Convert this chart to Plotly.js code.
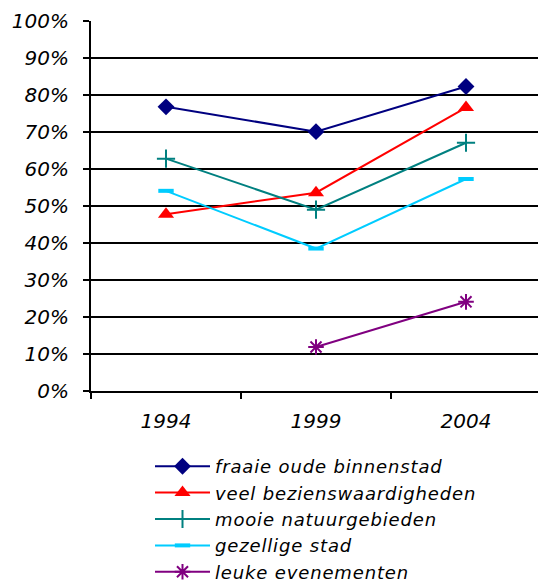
<!DOCTYPE html>
<html>
<head>
<meta charset="utf-8">
<script src="https://cdn.plot.ly/plotly-3.0.1.min.js"></script>
<style>html,body{margin:0;padding:0;background:#fff;}#chart{width:538px;height:583px;}
.legendtext{letter-spacing:0.85px;}
</style>
</head>
<body>
<div id="chart"></div>
<script>
const years = ['1994', '1999', '2004'];
const fraaieOudeBinnenstad = [0.768, 0.701, 0.823];
const veelBezienswaardigheden = [0.478, 0.536, 0.766];
const mooieNatuurgebieden = [0.628, 0.490, 0.671];
const gezelligeStad = [0.541, 0.385, 0.573];
const leukeEvenementen = [null, 0.119, 0.241];
const seriesNames = ['fraaie oude binnenstad', 'veel bezienswaardigheden', 'mooie natuurgebieden', 'gezellige stad', 'leuke evenementen'];
const yTickVals = [0, 0.1, 0.2, 0.3, 0.4, 0.5, 0.6, 0.7, 0.8, 0.9, 1.0];

const font = {family: 'DejaVu Sans, Verdana, sans-serif', size: 20, color: '#000', style: 'italic'};
const legendFont = {family: 'DejaVu Sans, Verdana, sans-serif', size: 18, color: '#000', style: 'italic'};

const traces = [
  {x: years, y: fraaieOudeBinnenstad, name: seriesNames[0], mode: 'lines+markers',
   line: {color: '#000080', width: 2}, marker: {symbol: 'diamond', size: 13, color: '#000080'}},
  {x: years, y: veelBezienswaardigheden, name: seriesNames[1], mode: 'lines+markers',
   line: {color: '#FF0000', width: 2}, marker: {symbol: 'triangle-up', size: 14, color: '#FF0000'}},
  {x: years, y: mooieNatuurgebieden, name: seriesNames[2], mode: 'lines+markers',
   line: {color: '#008080', width: 2}, marker: {symbol: 'cross-thin-open', size: 13, color: '#008080', line: {color: '#008080', width: 2}}},
  {x: years, y: gezelligeStad, name: seriesNames[3], mode: 'lines+markers',
   line: {color: '#00CCFF', width: 2}, marker: {symbol: 'line-ew-open', size: 11, color: '#00CCFF', line: {color: '#00CCFF', width: 4}}},
  {x: years, y: leukeEvenementen, name: seriesNames[4], mode: 'lines+markers',
   line: {color: '#800080', width: 2}, marker: {symbol: 'asterisk-open', size: 13, color: '#800080', line: {color: '#800080', width: 2}}}
];

const layout = {
  width: 538, height: 583,
  margin: {l: 91, r: 0, t: 21, b: 192, pad: 0, autoexpand: false},
  paper_bgcolor: '#fff', plot_bgcolor: '#fff',
  font: font,
  showlegend: true,
  xaxis: {
    type: 'category', range: [-0.5, 2.48],
    showgrid: false, zeroline: false,
    showline: true, linecolor: '#000', linewidth: 2, automargin: false, tickangle: 0,
    ticks: 'outside', tickson: 'boundaries', ticklen: 6, tickwidth: 2, tickcolor: '#000',
    ticklabelstandoff: 11,
    tickfont: font
  },
  yaxis: {
    range: [0, 1], tickvals: yTickVals, tickformat: '.0%', automargin: false,
    showgrid: true, gridcolor: '#000', gridwidth: 2,
    zeroline: false,
    showline: true, linecolor: '#000', linewidth: 2,
    ticks: 'outside', ticklen: 6, tickwidth: 2, tickcolor: '#000',
    ticklabelstandoff: 10,
    tickfont: font
  },
  legend: {
    xref: 'container', yref: 'container',
    x: 150 / 538, y: 1 - 448 / 583, xanchor: 'left', yanchor: 'top',
    font: legendFont, itemwidth: 55, tracegroupgap: 0, maxheight: 1000,
    borderwidth: 0,
    bgcolor: 'rgba(0,0,0,0)'
  }
};

Plotly.newPlot('chart', traces, layout, {displayModeBar: false, staticPlot: true});
</script>
</body>
</html>
